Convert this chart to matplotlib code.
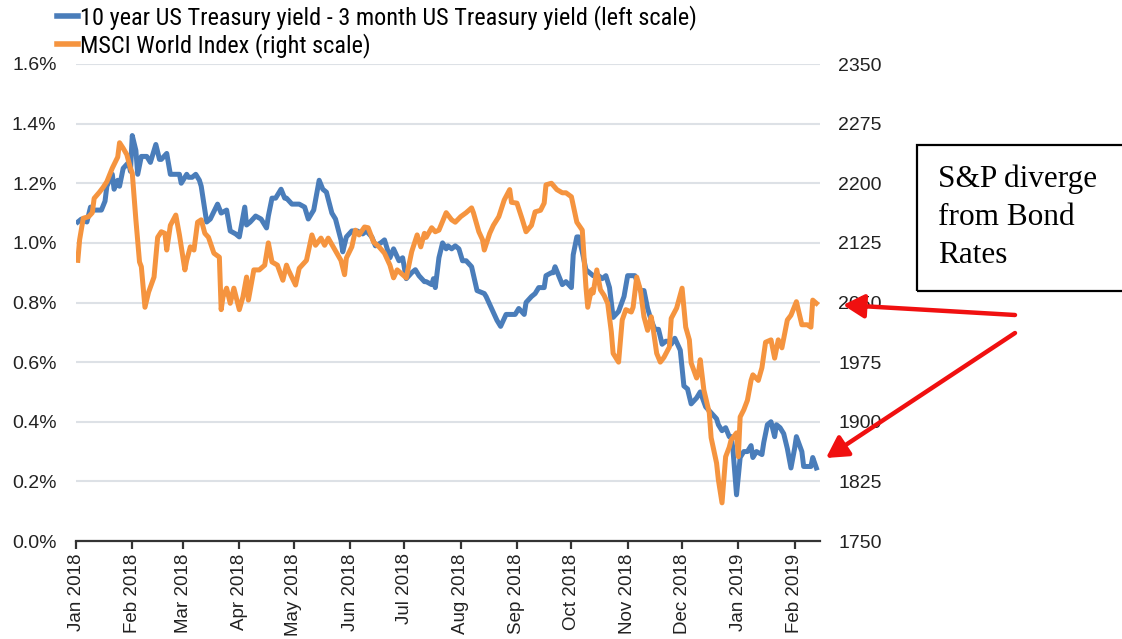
import matplotlib
matplotlib.use("Agg")
import matplotlib.pyplot as plt
import matplotlib.dates as mdates
from matplotlib.patches import Rectangle, FancyArrowPatch
from matplotlib.lines import Line2D
import pandas as pd

# ---------------- data ----------------
spread_dates = [
    "2018-01-02", "2018-01-04", "2018-01-07", "2018-01-09", "2018-01-10", "2018-01-15", "2018-01-17",
    "2018-01-18", "2018-01-21", "2018-01-22", "2018-01-24", "2018-01-25", "2018-01-27", "2018-01-30",
    "2018-01-31", "2018-02-01", "2018-02-03", "2018-02-04", "2018-02-06", "2018-02-09", "2018-02-11",
    "2018-02-14", "2018-02-16", "2018-02-17", "2018-02-20", "2018-02-22", "2018-02-25", "2018-02-27",
    "2018-02-28", "2018-03-03", "2018-03-04", "2018-03-06", "2018-03-08", "2018-03-10", "2018-03-11",
    "2018-03-14", "2018-03-16", "2018-03-20", "2018-03-22", "2018-03-25", "2018-03-27", "2018-03-30",
    "2018-04-01", "2018-04-04", "2018-04-05", "2018-04-07", "2018-04-10", "2018-04-13", "2018-04-16",
    "2018-04-17", "2018-04-19", "2018-04-21", "2018-04-24", "2018-04-26", "2018-04-27", "2018-04-30",
    "2018-05-04", "2018-05-07", "2018-05-09", "2018-05-12", "2018-05-15", "2018-05-17", "2018-05-19",
    "2018-05-22", "2018-05-24", "2018-05-27", "2018-05-28", "2018-05-30", "2018-06-02", "2018-06-05",
    "2018-06-08", "2018-06-10", "2018-06-13", "2018-06-15", "2018-06-18", "2018-06-20", "2018-06-23",
    "2018-06-25", "2018-06-28", "2018-06-30", "2018-07-02", "2018-07-05", "2018-07-07", "2018-07-09",
    "2018-07-12", "2018-07-13", "2018-07-16", "2018-07-17", "2018-07-18", "2018-07-20", "2018-07-22",
    "2018-07-24", "2018-07-25", "2018-07-27", "2018-07-29", "2018-07-31", "2018-08-02", "2018-08-04",
    "2018-08-07", "2018-08-10", "2018-08-14", "2018-08-15", "2018-08-18", "2018-08-21", "2018-08-23",
    "2018-08-26", "2018-08-29", "2018-08-31", "2018-09-02", "2018-09-05", "2018-09-06", "2018-09-09",
    "2018-09-11", "2018-09-13", "2018-09-16", "2018-09-17", "2018-09-20", "2018-09-21", "2018-09-22",
    "2018-09-24", "2018-09-26", "2018-09-28", "2018-10-01", "2018-10-02", "2018-10-04", "2018-10-05",
    "2018-10-07", "2018-10-09", "2018-10-11", "2018-10-13", "2018-10-16", "2018-10-18", "2018-10-20",
    "2018-10-22", "2018-10-23", "2018-10-24", "2018-10-27", "2018-10-30", "2018-11-01", "2018-11-03",
    "2018-11-05", "2018-11-08", "2018-11-10", "2018-11-12", "2018-11-14", "2018-11-16", "2018-11-18",
    "2018-11-20", "2018-11-22", "2018-11-24", "2018-11-25", "2018-11-27", "2018-11-30", "2018-12-02",
    "2018-12-04", "2018-12-06", "2018-12-09", "2018-12-11", "2018-12-14", "2018-12-17", "2018-12-20",
    "2018-12-21", "2018-12-23", "2018-12-25", "2018-12-27", "2018-12-28", "2018-12-29", "2018-12-31",
    "2019-01-02", "2019-01-04", "2019-01-06", "2019-01-08", "2019-01-09", "2019-01-11", "2019-01-14",
    "2019-01-15", "2019-01-17", "2019-01-19", "2019-01-21", "2019-01-22", "2019-01-24", "2019-01-26",
    "2019-01-28", "2019-01-30", "2019-02-01", "2019-02-02", "2019-02-05", "2019-02-06", "2019-02-08",
    "2019-02-10", "2019-02-11", "2019-02-13",
]
spread_values = [
    1.07, 1.08, 1.07, 1.12, 1.11, 1.11, 1.14,
    1.19, 1.23, 1.18, 1.21, 1.19, 1.25, 1.27,
    1.24, 1.36, 1.31, 1.23, 1.29, 1.29, 1.27,
    1.33, 1.28, 1.28, 1.30, 1.23, 1.23, 1.23,
    1.20, 1.23, 1.22, 1.22, 1.23, 1.21, 1.19,
    1.07, 1.08, 1.13, 1.10, 1.11, 1.04, 1.03,
    1.02, 1.12, 1.06, 1.07, 1.09, 1.08, 1.05,
    1.09, 1.15, 1.15, 1.18, 1.15, 1.15, 1.13,
    1.13, 1.12, 1.08, 1.11, 1.21, 1.18, 1.17,
    1.10, 1.08, 1.01, 0.97, 1.02, 1.04, 1.04,
    1.03, 1.04, 1.02, 0.99, 1.00, 1.01, 0.95,
    0.98, 0.94, 0.95, 0.88, 0.90, 0.91, 0.89,
    0.87, 0.87, 0.86, 0.88, 0.85, 0.95, 1.00,
    0.98, 0.99, 0.98, 0.99, 0.98, 0.94, 0.94,
    0.92, 0.84, 0.83, 0.82, 0.78, 0.74, 0.72,
    0.76, 0.76, 0.76, 0.78, 0.76, 0.80, 0.82,
    0.83, 0.85, 0.85, 0.89, 0.90, 0.90, 0.92,
    0.89, 0.86, 0.87, 0.85, 0.96, 1.02, 1.02,
    0.97, 0.91, 0.90, 0.89, 0.89, 0.88, 0.89,
    0.85, 0.80, 0.75, 0.77, 0.82, 0.89, 0.89,
    0.89, 0.84, 0.84, 0.78, 0.74, 0.71, 0.71,
    0.66, 0.67, 0.67, 0.66, 0.68, 0.64, 0.52,
    0.51, 0.46, 0.48, 0.50, 0.45, 0.43, 0.41,
    0.39, 0.37, 0.38, 0.35, 0.35, 0.31, 0.155,
    0.28, 0.30, 0.30, 0.32, 0.28, 0.30, 0.29,
    0.33, 0.39, 0.40, 0.35, 0.39, 0.38, 0.36,
    0.31, 0.245, 0.31, 0.35, 0.30, 0.25, 0.25,
    0.25, 0.28, 0.245,
]

msci_dates = [
    "2018-01-02", "2018-01-03", "2018-01-05", "2018-01-08", "2018-01-10", "2018-01-11", "2018-01-14",
    "2018-01-16", "2018-01-18", "2018-01-21", "2018-01-24", "2018-01-25", "2018-01-27", "2018-01-29",
    "2018-01-31", "2018-02-01", "2018-02-03", "2018-02-05", "2018-02-06", "2018-02-08", "2018-02-10",
    "2018-02-13", "2018-02-15", "2018-02-17", "2018-02-19", "2018-02-20", "2018-02-22", "2018-02-25",
    "2018-02-27", "2018-03-02", "2018-03-03", "2018-03-05", "2018-03-07", "2018-03-09", "2018-03-11",
    "2018-03-13", "2018-03-15", "2018-03-18", "2018-03-21", "2018-03-22", "2018-03-23", "2018-03-25",
    "2018-03-27", "2018-03-29", "2018-04-01", "2018-04-03", "2018-04-05", "2018-04-06", "2018-04-09",
    "2018-04-12", "2018-04-15", "2018-04-17", "2018-04-19", "2018-04-22", "2018-04-25", "2018-04-27",
    "2018-04-28", "2018-05-02", "2018-05-04", "2018-05-08", "2018-05-11", "2018-05-13", "2018-05-16",
    "2018-05-18", "2018-05-20", "2018-05-23", "2018-05-27", "2018-05-29", "2018-05-30", "2018-06-02",
    "2018-06-04", "2018-06-06", "2018-06-09", "2018-06-11", "2018-06-14", "2018-06-17", "2018-06-20",
    "2018-06-23", "2018-06-25", "2018-06-27", "2018-06-30", "2018-07-02", "2018-07-05", "2018-07-08",
    "2018-07-10", "2018-07-12", "2018-07-13", "2018-07-16", "2018-07-18", "2018-07-20", "2018-07-24",
    "2018-07-27", "2018-07-29", "2018-08-01", "2018-08-04", "2018-08-07", "2018-08-08", "2018-08-11",
    "2018-08-13", "2018-08-14", "2018-08-17", "2018-08-19", "2018-08-22", "2018-08-25", "2018-08-28",
    "2018-08-29", "2018-09-01", "2018-09-04", "2018-09-06", "2018-09-09", "2018-09-11", "2018-09-14",
    "2018-09-16", "2018-09-17", "2018-09-20", "2018-09-23", "2018-09-26", "2018-09-28", "2018-10-01",
    "2018-10-04", "2018-10-07", "2018-10-09", "2018-10-10", "2018-10-12", "2018-10-13", "2018-10-15",
    "2018-10-17", "2018-10-19", "2018-10-21", "2018-10-23", "2018-10-24", "2018-10-27", "2018-10-29",
    "2018-10-31", "2018-11-03", "2018-11-04", "2018-11-06", "2018-11-08", "2018-11-10", "2018-11-12",
    "2018-11-14", "2018-11-15", "2018-11-17", "2018-11-19", "2018-11-21", "2018-11-24", "2018-11-25",
    "2018-11-28", "2018-12-01", "2018-12-03", "2018-12-05", "2018-12-06", "2018-12-09", "2018-12-10",
    "2018-12-11", "2018-12-13", "2018-12-16", "2018-12-17", "2018-12-20", "2018-12-21", "2018-12-23",
    "2018-12-25", "2018-12-27", "2018-12-28", "2018-12-31", "2019-01-01", "2019-01-02", "2019-01-04",
    "2019-01-06", "2019-01-08", "2019-01-09", "2019-01-12", "2019-01-14", "2019-01-16", "2019-01-19",
    "2019-01-21", "2019-01-23", "2019-01-25", "2019-01-28", "2019-01-30", "2019-02-02", "2019-02-05",
    "2019-02-08", "2019-02-10", "2019-02-11", "2019-02-13",
]
msci_values = [
    2103, 2129, 2156, 2158, 2163, 2181, 2189,
    2195, 2202, 2219, 2233, 2251, 2244, 2236,
    2219, 2213, 2154, 2101, 2095, 2044, 2063,
    2082, 2132, 2139, 2137, 2116, 2147, 2160,
    2135, 2091, 2103, 2120, 2116, 2151, 2154,
    2137, 2132, 2112, 2107, 2041, 2057, 2068,
    2049, 2068, 2041, 2057, 2082, 2053, 2091,
    2091, 2097, 2125, 2101, 2097, 2078, 2097,
    2091, 2072, 2093, 2103, 2135, 2122, 2131,
    2122, 2131, 2119, 2103, 2085, 2106, 2120,
    2141, 2135, 2145, 2144, 2126, 2120, 2112,
    2097, 2081, 2091, 2085, 2081, 2114, 2135,
    2120, 2137, 2132, 2144, 2139, 2141, 2163,
    2154, 2151, 2158, 2163, 2169, 2163, 2139,
    2129, 2116, 2137, 2147, 2158, 2179, 2192,
    2176, 2175, 2154, 2139, 2147, 2164, 2166,
    2175, 2198, 2200, 2192, 2188, 2188, 2183,
    2151, 2141, 2070, 2044, 2066, 2062, 2091,
    2066, 2059, 2049, 2013, 1986, 1975, 2028,
    2041, 2038, 2044, 2082, 2066, 2032, 2015,
    2032, 2018, 1986, 1975, 1981, 1994, 2030,
    2043, 2068, 2019, 2003, 1974, 1955, 1961,
    1978, 1940, 1911, 1880, 1848, 1827, 1798,
    1856, 1868, 1877, 1886, 1856, 1906, 1915,
    1927, 1952, 1959, 1952, 1968, 2000, 2003,
    1980, 2003, 1993, 2028, 2034, 2051, 2022,
    2022, 2019, 2053, 2049,
]

left_ticks = [0.0, 0.2, 0.4, 0.6, 0.8, 1.0, 1.2, 1.4, 1.6]
right_ticks = [1750, 1825, 1900, 1975, 2050, 2125, 2200, 2275, 2350]
spread_label = "10 year US Treasury yield - 3 month US Treasury yield (left scale)"
msci_label = "MSCI World Index (right scale)"
note_lines = ["S&P diverge", "from Bond", "Rates"]

# ---------------- figure ----------------
W, H = 1122, 639
BLUE = "#4A7DBA"
ORANGE = "#F5943F"
GRID = "#DDE1E6"
TXT = "#222222"
SANS = ["Liberation Sans", "DejaVu Sans"]
NARROW = ["Liberation Sans Narrow", "Roboto Condensed", "Liberation Sans", "DejaVu Sans"]

fig = plt.figure(figsize=(W / 100, H / 100), dpi=100)
ax = fig.add_axes([76 / W, 1 - 541 / H, (820 - 76) / W, (541 - 64) / H])
ax2 = ax.twinx()

sd = pd.to_datetime(spread_dates)
md = pd.to_datetime(msci_dates)

ax.plot(sd, spread_values, color=BLUE, lw=3.6, solid_joinstyle="round", zorder=3)
ax2.plot(md, msci_values, color=ORANGE, lw=3.6, solid_joinstyle="round", zorder=3)

ax.set_ylim(0, 1.6)
ax2.set_ylim(1750, 2350)
ax.set_yticks(left_ticks)
ax.set_yticklabels([f"{v:.1f}%" for v in left_ticks])
ax2.set_yticks(right_ticks)
ax2.set_yticklabels([str(v) for v in right_ticks])

ax.set_xlim(pd.Timestamp("2018-01-01"), pd.Timestamp("2019-02-15"))
ax.xaxis.set_major_locator(mdates.MonthLocator())
ax.xaxis.set_major_formatter(mdates.DateFormatter("%b %Y"))

ax.grid(axis="y", color=GRID, lw=1.5)
ax.set_axisbelow(True)
for a in (ax, ax2):
    for s in ("top", "left", "right", "bottom"):
        a.spines[s].set_visible(False)
ax.spines["bottom"].set_visible(True)
ax.spines["bottom"].set_color("#333333")
ax.spines["bottom"].set_linewidth(1.6)

ax.tick_params(axis="y", length=0, pad=14, labelsize=14, labelcolor=TXT)
ax2.tick_params(axis="y", length=0, pad=13, labelsize=14, labelcolor=TXT)
ax.tick_params(axis="x", length=6, width=1.6, color="#333333", direction="out",
               labelsize=13.5, labelrotation=90, labelcolor=TXT, pad=3)
for lab in ax.get_xticklabels() + ax.get_yticklabels() + ax2.get_yticklabels():
    lab.set_family(SANS)

# legend
handles = [Line2D([], [], color=BLUE, lw=4), Line2D([], [], color=ORANGE, lw=4)]
fig.legend(handles, [spread_label, msci_label], loc="upper left",
           bbox_to_anchor=(57 / W, 1 - 5 / H), frameon=False,
           prop={"family": NARROW, "size": 17.5}, handlelength=0.85, handletextpad=0.1,
           labelspacing=0.12, borderpad=0, borderaxespad=0)

# annotation box
fig.patches.append(Rectangle((917 / W, 1 - 291 / H), (W + 5 - 917) / W, (291 - 145) / H,
                             transform=fig.transFigure, fill=False, ec="black", lw=1.6,
                             clip_on=False))
for i, line in enumerate(note_lines):
    fig.text(938 / W, 1 - (187 + 38 * i) / H, line, family=["Liberation Serif", "DejaVu Serif"],
             fontsize=22.5, color="black", va="baseline", ha="left")

# arrows
for (x0, y0), (x1, y1) in [((1015, 315), (843, 305)), ((1015, 333), (826, 458))]:
    arr = FancyArrowPatch((x0 / W, 1 - y0 / H), (x1 / W, 1 - y1 / H),
                          transform=fig.transFigure, arrowstyle="-|>,head_length=8,head_width=4.5",
                          mutation_scale=1.6, color="#F01010", lw=3.2, shrinkA=0, shrinkB=0)
    fig.patches.append(arr)

fig.savefig("out.png", dpi=100)
